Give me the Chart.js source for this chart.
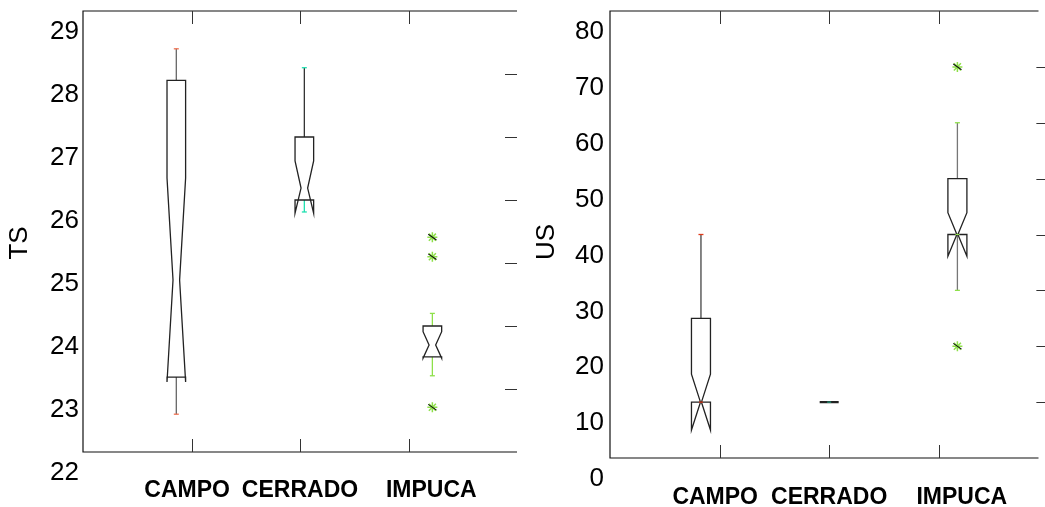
<!DOCTYPE html>
<html>
<head>
<meta charset="utf-8">
<script src="https://cdn.jsdelivr.net/npm/chart.js@4.4.1/dist/chart.umd.min.js"></script>
<style>
  html, body { margin: 0; padding: 0; background: #fff; overflow: hidden; }
  .panel { position: absolute; top: 0; height: 507px; }
  #left { left: 0; width: 525px; }
  #right { left: 525px; width: 520px; }
</style>
</head>
<body>
<div class="panel" id="left"><canvas id="tsChart"></canvas></div>
<div class="panel" id="right"><canvas id="usChart"></canvas></div>
<script>
// groups and where their names sit on the x axis
const groups = ['CAMPO', 'CERRADO', 'IMPUCA'];
const labelAt = [0.96, 2.0, 3.21];
const groupTicks = [1, 2, 3];

// TS panel
const tsPos = [0.86, 2.04, 3.22];
const tsWhiskerLo = [22.60, 25.81, 23.21];
const tsQ1 = [23.19, 26.00, 23.51];
const tsMedian = [24.73, 26.19, 23.70];
const tsQ3 = [27.90, 27.00, 24.00];
const tsWhiskerHi = [28.40, 28.10, 24.20];
const tsNotchLo = [23.11, 25.79, 23.49];
const tsNotchHi = [26.35, 26.62, 23.91];
const tsOutliers = [[], [], [25.41, 25.10, 22.71]];
const tsTicks = [22, 23, 24, 25, 26, 27, 28, 29];

// US panel
const usPos = [0.83, 2.00, 3.17];
const usWhiskerLo = [10, 10, 30];
const usQ1 = [10, 10, 40];
const usMedian = [10, 10, 40];
const usQ3 = [25, 10, 50];
const usWhiskerHi = [40, 10, 60];
const usNotchLo = [5, 10, 36.1];
const usNotchHi = [15, 10, 43.9];
const usOutliers = [[], [], [70, 20]];
const usTicks = [0, 10, 20, 30, 40, 50, 60, 70, 80];

// colours per group: upper whisker, lower whisker, caps
const tsColors = [
    { up: '#666', lo: '#666', cap: '#f07050' },
    { up: '#333', lo: '#20e0b0', cap: '#20e0b0' },
    { up: '#8ee04a', lo: '#8ee04a', cap: '#8ee04a' }
];
const usColors = [
    { up: '#444', lo: '#444', cap: '#e03a1a' },
    { up: '#444', lo: '#444', cap: '#20a080' },
    { up: '#777', lo: '#777', cap: '#8ee04a' }
];

Chart.defaults.font.family = "'Liberation Sans', Arial, sans-serif";
Chart.defaults.color = '#000';

function outlierPoints(pos, outs) {
    const pts = [];
    outs.forEach((list, i) => list.forEach(v => pts.push({ x: pos[i], y: v })));
    return pts;
}

const boxPlugin = {
    id: 'boxes',
    afterDraw(chart) {
        const o = chart.options.plugins.boxes;
        const ctx = chart.ctx;
        const a = chart.chartArea;
        const xs = chart.scales.x;
        const ys = chart.scales.y;
        const Y = v => ys.getPixelForValue(v);
        ctx.save();

        // frame: left, top, bottom
        ctx.strokeStyle = '#111';
        ctx.lineWidth = 1.2;
        ctx.beginPath();
        ctx.moveTo(a.right, a.top);
        ctx.lineTo(a.left, a.top);
        ctx.lineTo(a.left, a.bottom);
        ctx.lineTo(a.right, a.bottom);
        ctx.stroke();

        // inward tick marks
        ctx.strokeStyle = '#333';
        ctx.lineWidth = 1;
        ctx.beginPath();
        groupTicks.forEach(v => {
            const px = Math.round(xs.getPixelForValue(v)) + 0.5;
            ctx.moveTo(px, a.top); ctx.lineTo(px, a.top + 13);
            ctx.moveTo(px, a.bottom); ctx.lineTo(px, a.bottom - 13);
        });
        const rx = xs.getPixelForValue(4);
        o.ticks.slice(1, -1).forEach(v => {
            const py = Math.round(Y(v)) + 0.5;
            ctx.moveTo(rx - 12, py); ctx.lineTo(rx, py);
        });
        ctx.stroke();

        // boxes
        o.pos.forEach((p, i) => {
            const px = xs.getPixelForValue(p);
            const L = px - o.half, R = px + o.half, d = o.depth;
            const c = o.colors[i];
            ctx.lineWidth = 1.3;
            if (o.wHi[i] > o.q3[i]) {
                ctx.strokeStyle = c.up;
                ctx.beginPath(); ctx.moveTo(px, Y(o.q3[i])); ctx.lineTo(px, Y(o.wHi[i])); ctx.stroke();
                ctx.strokeStyle = c.cap;
                ctx.beginPath(); ctx.moveTo(px - 2.5, Y(o.wHi[i])); ctx.lineTo(px + 2.5, Y(o.wHi[i])); ctx.stroke();
            }
            if (o.wLo[i] < o.q1[i]) {
                ctx.strokeStyle = c.lo;
                ctx.beginPath(); ctx.moveTo(px, Y(o.q1[i])); ctx.lineTo(px, Y(o.wLo[i])); ctx.stroke();
                ctx.strokeStyle = c.cap;
                ctx.beginPath(); ctx.moveTo(px - 2.5, Y(o.wLo[i])); ctx.lineTo(px + 2.5, Y(o.wLo[i])); ctx.stroke();
            }
            ctx.strokeStyle = '#222';
            ctx.lineWidth = o.q3[i] === o.q1[i] ? 2.2 : 1.3;
            ctx.beginPath();
            ctx.moveTo(L, Y(o.q1[i]));
            ctx.lineTo(L, Y(o.nLo[i]));
            ctx.lineTo(L + d, Y(o.med[i]));
            ctx.lineTo(L, Y(o.nHi[i]));
            ctx.lineTo(L, Y(o.q3[i]));
            ctx.lineTo(R, Y(o.q3[i]));
            ctx.lineTo(R, Y(o.nHi[i]));
            ctx.lineTo(R - d, Y(o.med[i]));
            ctx.lineTo(R, Y(o.nLo[i]));
            ctx.lineTo(R, Y(o.q1[i]));
            ctx.closePath();
            ctx.stroke();
            if (o.showMedian) {
                const w = Math.max(o.half - d, 2);
                ctx.strokeStyle = c.cap;
                ctx.lineWidth = 1.2;
                ctx.beginPath(); ctx.moveTo(px - w, Y(o.med[i])); ctx.lineTo(px + w, Y(o.med[i])); ctx.stroke();
            }
        });

        // axis title
        ctx.fillStyle = '#000';
        ctx.font = "26px 'Liberation Sans', Arial, sans-serif";
        ctx.textAlign = 'center';
        ctx.textBaseline = 'middle';
        ctx.translate(o.titleX, o.titleY);
        ctx.rotate(-Math.PI / 2);
        ctx.fillText(o.title, 0, 0);
        ctx.restore();
    }
};

function makeChart(id, cfg) {
    const pts = outlierPoints(cfg.pos, cfg.outliers);
    return new Chart(document.getElementById(id), {
        type: 'scatter',
        data: {
            datasets: [{
                data: pts,
                pointStyle: 'line',
                pointRotation: 35,
                pointRadius: 5,
                pointHoverRadius: 5,
                pointBorderColor: '#111',
                pointBorderWidth: 1.1
            }, {
                data: pts,
                pointStyle: 'star',
                pointRadius: 5,
                pointHoverRadius: 5,
                pointBorderColor: '#8ee04a',
                pointBorderWidth: 1.5
            }]
        },
        options: {
            responsive: true,
            maintainAspectRatio: false,
            animation: false,
            events: [],
            layout: { padding: { top: 11, right: cfg.padRight, left: 0, bottom: 0 } },
            plugins: {
                legend: { display: false },
                tooltip: { enabled: false },
                boxes: cfg
            },
            scales: {
                x: {
                    type: 'linear',
                    min: 0,
                    max: cfg.xMax,
                    grid: { display: false, drawTicks: false },
                    border: { display: false },
                    afterBuildTicks: s => { s.ticks = labelAt.map(v => ({ value: v })); },
                    afterFit: s => { s.height = cfg.xHeight; },
                    ticks: {
                        autoSkip: false,
                        maxRotation: 0,
                        padding: cfg.xPad,
                        font: { size: 23, weight: 'bold' },
                        callback: (v, i) => groups[i]
                    }
                },
                y: {
                    min: cfg.ticks[0],
                    max: cfg.ticks[cfg.ticks.length - 1],
                    grid: { display: false, drawTicks: false },
                    border: { display: false },
                    afterBuildTicks: s => { s.ticks = cfg.ticks.map(v => ({ value: v })); },
                    afterFit: s => { s.width = cfg.yWidth; s.paddingTop = 0; s.paddingBottom = 0; },
                    ticks: {
                        autoSkip: false,
                        padding: cfg.yPad,
                        labelOffset: 21,
                        font: { size: 26, lineHeight: 0.3 }
                    }
                }
            }
        },
        plugins: [boxPlugin]
    });
}

makeChart('tsChart', {
    pos: tsPos, wLo: tsWhiskerLo, q1: tsQ1, med: tsMedian, q3: tsQ3, wHi: tsWhiskerHi,
    nLo: tsNotchLo, nHi: tsNotchHi, outliers: tsOutliers, ticks: tsTicks, colors: tsColors,
    half: 9.3, depth: 6, showMedian: false,
    title: 'TS', titleX: 20, titleY: 243,
    xMax: 4, padRight: 8, xHeight: 55, xPad: 25, yWidth: 83, yPad: 4
});

makeChart('usChart', {
    pos: usPos, wLo: usWhiskerLo, q1: usQ1, med: usMedian, q3: usQ3, wHi: usWhiskerHi,
    nLo: usNotchLo, nHi: usNotchHi, outliers: usOutliers, ticks: usTicks, colors: usColors,
    half: 9.5, depth: 9, showMedian: true,
    title: 'US', titleX: 22, titleY: 242,
    xMax: 3.91, padRight: 0, xHeight: 49, xPad: 26, yWidth: 85, yPad: 6
});
</script>
</body>
</html>
